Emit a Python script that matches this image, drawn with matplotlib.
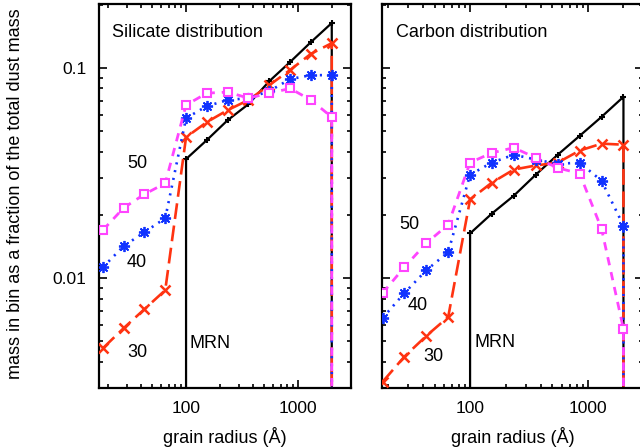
import matplotlib
matplotlib.use('Agg')
import matplotlib.pyplot as plt
from matplotlib.ticker import LogLocator, NullFormatter, FixedLocator, FixedFormatter

plt.rcParams['font.family'] = ['Liberation Sans', 'DejaVu Sans']

# grain radius of the bins (Angstrom)
radius = [18.1, 27.7, 42.5, 65.2, 100, 153, 235, 361, 554, 850, 1303, 2000]
radius_mrn = [100, 153, 235, 361, 554, 850, 1303, 2000]

# silicate
sil_mrn = [0.0369, 0.0454, 0.0565, 0.0674, 0.0867, 0.107, 0.133, 0.164]
sil_30 = [0.00464, 0.00578, 0.00712, 0.00877, 0.0469, 0.0553, 0.0631, 0.0705, 0.083, 0.098, 0.117, 0.1315]
sil_40 = [0.01128, 0.0142, 0.01656, 0.0193, 0.0578, 0.0659, 0.0705, 0.072, 0.0777, 0.0887, 0.0926, 0.0926]
sil_50 = [0.01694, 0.0216, 0.0251, 0.0283, 0.0667, 0.076, 0.0769, 0.072, 0.076, 0.080, 0.0705, 0.0585]

# carbon
car_mrn = [0.01633, 0.0203, 0.0247, 0.0311, 0.0387, 0.0476, 0.0586, 0.073]
car_30 = [0.00321, 0.00423, 0.00531, 0.00653, 0.0237, 0.0285, 0.0329, 0.0344, 0.0355, 0.0405, 0.0437, 0.0432]
car_40 = [0.00646, 0.00849, 0.0109, 0.0133, 0.0311, 0.0355, 0.0387, 0.0367, 0.035, 0.0355, 0.0291, 0.0178]
car_50 = [0.00849, 0.01128, 0.01466, 0.018, 0.0355, 0.0395, 0.0418, 0.0374, 0.0335, 0.0315, 0.0172, 0.00573]

ROJO = '#ff3311'
AZUL = '#1133ff'
MAGENTA = '#ff44ff'
FONDO = 1e-5  # value used to draw the drop below the axis


def dibujar_panel(ax, mrn, s30, s40, s50, titulo, xlim, etiquetas):
    # MRN: vertical line at 100 and at 2000
    x = [radius_mrn[0]] + radius_mrn + [radius_mrn[-1]]
    y = [FONDO] + mrn + [FONDO]
    ax.plot(x, y, color='black', lw=1.6, marker='+', ms=5, mew=1.5,
            markevery=list(range(1, len(x) - 1)), zorder=3)

    x = radius + [radius[-1]]
    n = list(range(len(radius)))
    ax.plot(x, s30 + [FONDO], color=ROJO, lw=1.9, ls=(0, (6, 2.5)),
            marker='x', ms=6.5, mew=1.8, markevery=n, zorder=4)
    ax.plot(x, s40 + [FONDO], color=AZUL, lw=1.9, ls=(0, (0.8, 2.2)),
            marker='s', ms=5, mew=0, markevery=n, zorder=5)
    # asterisk on top of the blue squares
    ax.plot(radius, s40, ls='none', color=AZUL, marker=(8, 2, 0), ms=8,
            mew=1.3, zorder=5)
    ax.plot(x, s50 + [FONDO], color=MAGENTA, lw=2.0, ls=(0, (3, 2.5)),
            marker='s', ms=5.8, mew=1.5, mfc='white', markevery=n, zorder=6)

    ax.set_xscale('log')
    ax.set_yscale('log')
    ax.set_xlim(*xlim)
    ax.set_ylim(0.003, 0.202)

    ax.xaxis.set_major_locator(FixedLocator([100, 1000]))
    ax.xaxis.set_major_formatter(FixedFormatter(['100', '1000']))
    ax.xaxis.set_minor_locator(LogLocator(base=10, subs=range(2, 10)))
    ax.xaxis.set_minor_formatter(NullFormatter())
    ax.yaxis.set_major_locator(FixedLocator([0.01, 0.1]))
    ax.yaxis.set_major_formatter(FixedFormatter(['0.01', '0.1']))
    ax.yaxis.set_minor_locator(LogLocator(base=10, subs=range(2, 10)))
    ax.yaxis.set_minor_formatter(NullFormatter())

    ax.tick_params(which='both', direction='in', top=True, right=True, width=1.2)
    ax.tick_params(which='major', length=6, labelsize=12.5)
    ax.tick_params(axis='x', which='major', pad=9)
    ax.tick_params(axis='y', which='major', pad=9)
    ax.tick_params(which='minor', length=3)
    for s in ax.spines.values():
        s.set_linewidth(1.6)

    ax.set_xlabel('grain radius (Å)', fontsize=13, labelpad=8)
    ax.text(0.053, 0.927, titulo, transform=ax.transAxes, fontsize=13,
            va='center', ha='left')
    for txt, (tx, ty) in etiquetas.items():
        ax.text(tx, ty, txt, fontsize=13, va='center',
                ha='left' if txt == 'MRN' else 'center')


fig = plt.figure(figsize=(6.4, 4.48), dpi=100)
ax1 = fig.add_axes([99 / 640, 60 / 448, 252 / 640, 384 / 448])
ax2 = fig.add_axes([382 / 640, 60 / 448, 261 / 640, 384 / 448])

dibujar_panel(ax1, sil_mrn, sil_30, sil_40, sil_50, 'Silicate distribution',
              (16.7, 2970),
              {'50': (36.5, 0.0353), '40': (36.5, 0.0119), '30': (36.5, 0.00444),
               'MRN': (108, 0.0049)})
dibujar_panel(ax2, car_mrn, car_30, car_40, car_50, 'Carbon distribution',
              (17.9, 2930),
              {'50': (30.4, 0.018), '40': (36.2, 0.00744), '30': (48.5, 0.00426),
               'MRN': (110, 0.00492)})
ax2.set_yticklabels([])

fig.text(0.025, 1 - 194 / 448,
         'mass in bin as a fraction of the total dust mass',
         rotation=90, va='center', ha='center', fontsize=13)

fig.savefig('out.png', dpi=100)
